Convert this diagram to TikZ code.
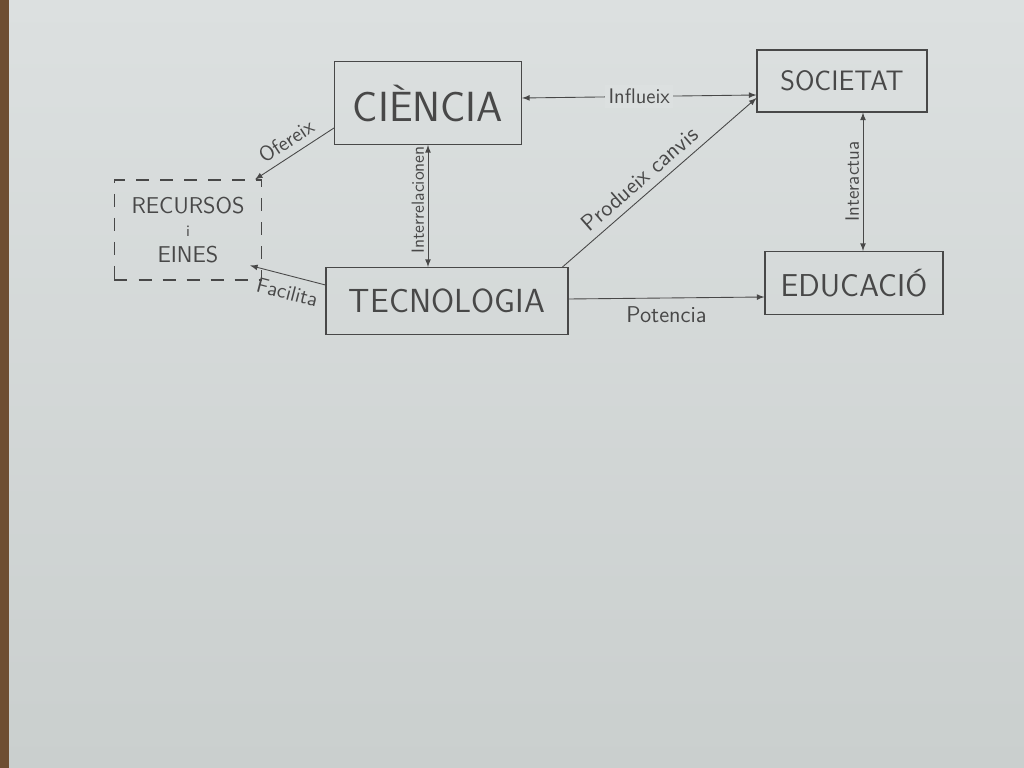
\documentclass[tikz,border=0pt]{standalone}
\usepackage{tikz}
\usetikzlibrary{positioning}
\definecolor{paper}{RGB}{220,224,224}
\definecolor{paperlow}{RGB}{202,207,206}
\definecolor{pencil}{RGB}{72,72,72}
\definecolor{deskedge}{RGB}{110,78,50}

\begin{document}
\begin{tikzpicture}
    [
    x=0.2mm, y=-0.2mm,
    box/.style={draw=pencil, line width=0.6pt, inner sep=0pt, text=pencil, align=center},
    dashbox/.style={box, dash pattern=on 2.6mm off 2.2mm},
    link/.style={draw=pencil, line width=0.5pt},
    tag/.style={text=pencil, font=\sffamily\fontsize{12}{12}\selectfont, inner sep=2pt},
    ]
    % paper
    \shade [top color=paper, bottom color=paperlow] (0,0) rectangle (1024,768);
    \fill [deskedge] (0,0) rectangle (9,768);

    \node (ciencia) at (428,103) [box, minimum width=37.4mm, minimum height=16.6mm,
        font=\sffamily\fontsize{24}{24}\selectfont] {CIÈNCIA};
    \node (societat) at (842,81) [box, minimum width=34mm, minimum height=12.4mm,
        font=\sffamily\fontsize{16}{16}\selectfont] {SOCIETAT};
    \node (recursos) at (188,230) [dashbox, minimum width=29.4mm, minimum height=20mm,
        font=\sffamily\fontsize{13}{12}\selectfont] {RECURSOS\\[1pt]{\fontsize{9}{9}\selectfont i}\\[3pt]EINES};
    \node (tecnologia) at (447,301) [box, minimum width=48.4mm, minimum height=13.4mm,
        font=\sffamily\fontsize{19}{19}\selectfont] {TECNOLOGIA};
    \node (educacio) at (854,283) [box, minimum width=35.6mm, minimum height=12.6mm,
        font=\sffamily\fontsize{18}{18}\selectfont] {EDUCACIÓ};

    \coordinate (sa) at ([xshift=4.2mm]societat.south);

    \draw [link, latex-latex] ([yshift=1mm]ciencia.east) to
        node [tag, fill=paper] {Influeix} ([yshift=-2.8mm]societat.west);
    \draw [link, -latex] ([yshift=-5mm]ciencia.west) to
        node [tag, sloped, above=2pt] {Ofereix} ([xshift=-1.4mm]recursos.north east);
    \draw [link, latex-latex] (ciencia.south |- tecnologia.north) to
        node [tag, sloped, above, pos=0.55, font=\sffamily\fontsize{10}{10}\selectfont] {Interrelacionen} (ciencia.south);
    \draw [link, -latex] ([yshift=3.2mm]tecnologia.west) to
        node [tag, sloped, below=3pt, pos=0.45] {Facilita} ([xshift=-2.4mm, yshift=3mm]recursos.south east);
    \draw [link, -latex] ([xshift=-1.2mm]tecnologia.north east) to
        node [tag, sloped, above=2pt, pos=0.45, font=\sffamily\fontsize{13}{13}\selectfont] {Produeix canvis} ([yshift=-3.4mm]societat.west);
    \draw [link, latex-latex] (sa |- educacio.north) to
        node [tag, sloped, above, font=\sffamily\fontsize{11}{11}\selectfont] {Interactua} (sa);
    \draw [link, -latex] ([yshift=0.4mm]tecnologia.east) to
        node [tag, below=1mm, font=\sffamily\fontsize{13}{13}\selectfont] {Potencia} ([yshift=-2.8mm]educacio.west);
\end{tikzpicture}
\end{document}
